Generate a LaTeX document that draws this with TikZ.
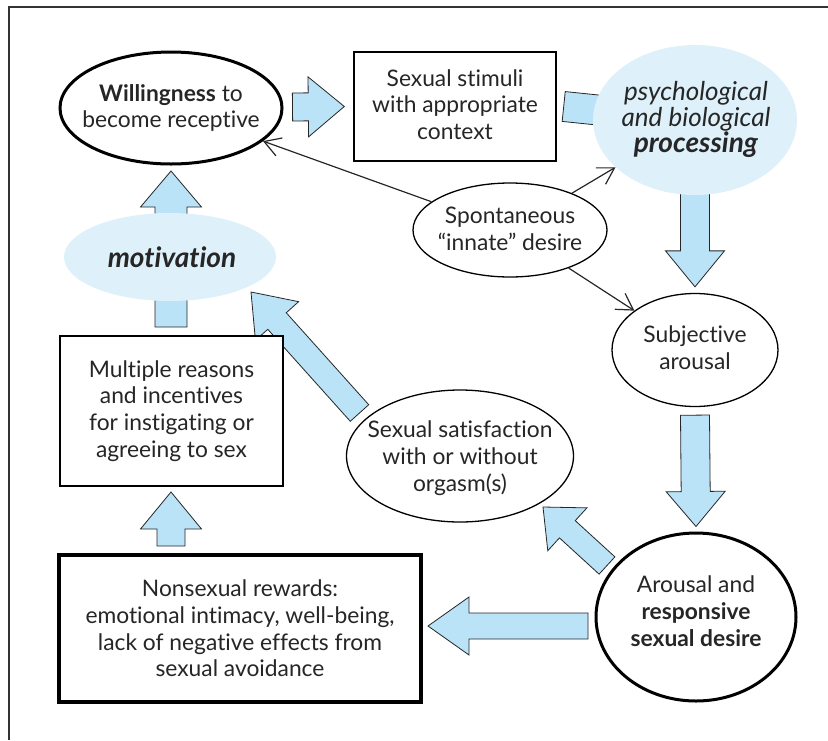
\documentclass[tikz,border=0pt]{standalone}
\usepackage{fontspec}
\setmainfont{Lato}[Ligatures=NoCommon]
\usetikzlibrary{calc,arrows.meta,shapes.geometric,backgrounds}
\definecolor{arrowblue}{RGB}{187,227,247}
\definecolor{ellblue}{RGB}{222,241,250}
\newcommand{\blockarrow}[5]{%
  \coordinate (ba-h) at ($(#2)!#5pt!(#1)$);
  \draw[blockarr] ($(#1)!#3pt!90:(#2)$) -- ($(ba-h)!#3pt!90:(#2)$) -- ($(ba-h)!#4pt!90:(#2)$) -- (#2)
    -- ($(ba-h)!#4pt!-90:(#2)$) -- ($(ba-h)!#3pt!-90:(#2)$) -- ($(#1)!#3pt!-90:(#2)$) -- cycle;}
\begin{document}
\begin{tikzpicture}[x=1pt,y=-1pt,
  txt/.style={align=center,font=\fontsize{22.8}{26.7}\selectfont,text=black!85,inner sep=0pt},
  thinell/.style={ellipse,draw,line width=1.3pt,fill=white,inner sep=0pt},
  thickell/.style={ellipse,draw,line width=3pt,fill=white,inner sep=0pt},
  blueell/.style={ellipse,fill=ellblue,inner sep=0pt},
  thinbox/.style={rectangle,draw,line width=1.4pt,fill=white,inner sep=0pt},
  thickbox/.style={rectangle,draw,line width=3.2pt,fill=white,inner sep=0pt},
  blockarr/.style={draw=black!85,line width=0.8pt,fill=arrowblue,line join=miter},
  thinarr/.style={draw=black!85,line width=1.2pt,-{Straight Barb[length=16pt,width=19pt,line width=1.2pt]}}]
\useasboundingbox (0,0) rectangle (828,740);
\draw[line width=1.3pt,black!80] (9,740) -- (9,7) -- (828,7);

% shapes
\node[thickell,minimum width=222pt,minimum height=112pt] (will) at (171,108) {};
\node[thinbox,minimum width=202pt,minimum height=109pt] (stim) at (455,106.5) {};
\node[blueell,minimum width=204pt,minimum height=150pt] (proc) at (695,120) {};
\node[thinell,minimum width=194pt,minimum height=94pt] (spont) at (510,230) {};
\node[thinell,minimum width=166pt,minimum height=113pt] (subj) at (695,350) {};
\node[thickell,minimum width=200pt,minimum height=168pt] (arous) at (696,617) {};
\node[thinell,minimum width=227pt,minimum height=132pt] (sat) at (460,456) {};
\node[blueell,minimum width=212pt,minimum height=88pt] (mot) at (170,257) {};
\node[thinbox,minimum width=223pt,minimum height=150pt] (multi) at (171.5,411) {};
\node[thickbox,minimum width=362pt,minimum height=147pt] (nonsex) at (240,628.5) {};

% texts
\node[txt] (will-t) at (will) {\textbf{Willingness} to\\become receptive};
\node[txt] (stim-t) at ($(stim)+(0,-2)$) {Sexual stimuli\\with appropriate\\context};
\node[txt,font=\fontsize{26}{26}\selectfont] (proc-t) at ($(proc)+(1,-1)$)
  {\itshape psychological\\\itshape and biological\\\fontsize{28}{28}\selectfont\textbf{\textit{processing}}};
\node[txt] (spont-t) at ($(spont)+(0,-1)$) {Spontaneous\\``innate'' desire};
\node[txt] (subj-t) at ($(subj)+(0,-2)$) {Subjective\\arousal};
\node[txt] (arous-t) at ($(arous)+(0,-6)$) {Arousal and\\\textbf{responsive}\\\textbf{sexual desire}};
\node[txt] (sat-t) at ($(sat)+(0,2)$) {Sexual satisfaction\\with or without\\orgasm(s)};
\node[txt,font=\fontsize{28}{28}\selectfont] (mot-t) at ($(mot)+(2,0)$) {\textbf{\textit{motivation}}};
\node[txt] (multi-t) at (multi) {Multiple reasons\\and incentives\\for instigating or\\agreeing to sex};
\node[txt] (nonsex-t) at (nonsex) {Nonsexual rewards:\\emotional intimacy, well-being,\\lack of negative effects from\\sexual avoidance};

\coordinate (a1t) at ($(will.east)+(9,-1)$);
\coordinate (a1h) at ($(stim.west)+(-9,0)$);
\coordinate (a2t) at ($(stim.east)+(7,0)$);
\coordinate (a3t) at ($(subj.south)+(0,8)$);
\coordinate (a3h) at ($(arous.north)+(0,-5)$);
\coordinate (a4t) at ($(subj.north)+(0,-6)$);
\coordinate (a5t) at (588,626);
\coordinate (a5h) at (428,626);
\coordinate (a6t) at (607,565.5);
\coordinate (a6h) at (543,507);
\coordinate (a7t) at (359.5,413);
\coordinate (a7h) at (251,292);
\coordinate (a8t) at (171,327);
\coordinate (a8h) at (171,171);
\coordinate (a9t) at (171,546);
\coordinate (a9h) at (171,492);

\begin{pgfonlayer}{background}
\blockarrow{a1t}{a1h}{14}{30}{36}
\blockarrow{a2t}{proc.center}{15}{30}{36}
\blockarrow{proc.center}{a4t}{14.5}{29.5}{36}
\blockarrow{a3t}{a3h}{14.5}{29.5}{35}
\blockarrow{a5t}{a5h}{13}{29}{41}
\blockarrow{a6t}{a6h}{11.7}{29}{33}
\blockarrow{a7t}{a7h}{12.4}{29}{39}
\blockarrow{a8t}{a8h}{16}{30.5}{36}
\blockarrow{a9t}{a9h}{14}{30.5}{37}
\end{pgfonlayer}

\draw[thinarr] (spont) -- (will);
\draw[thinarr] (spont) -- (proc);
\draw[thinarr] (spont) -- (subj);
\end{tikzpicture}
\end{document}
